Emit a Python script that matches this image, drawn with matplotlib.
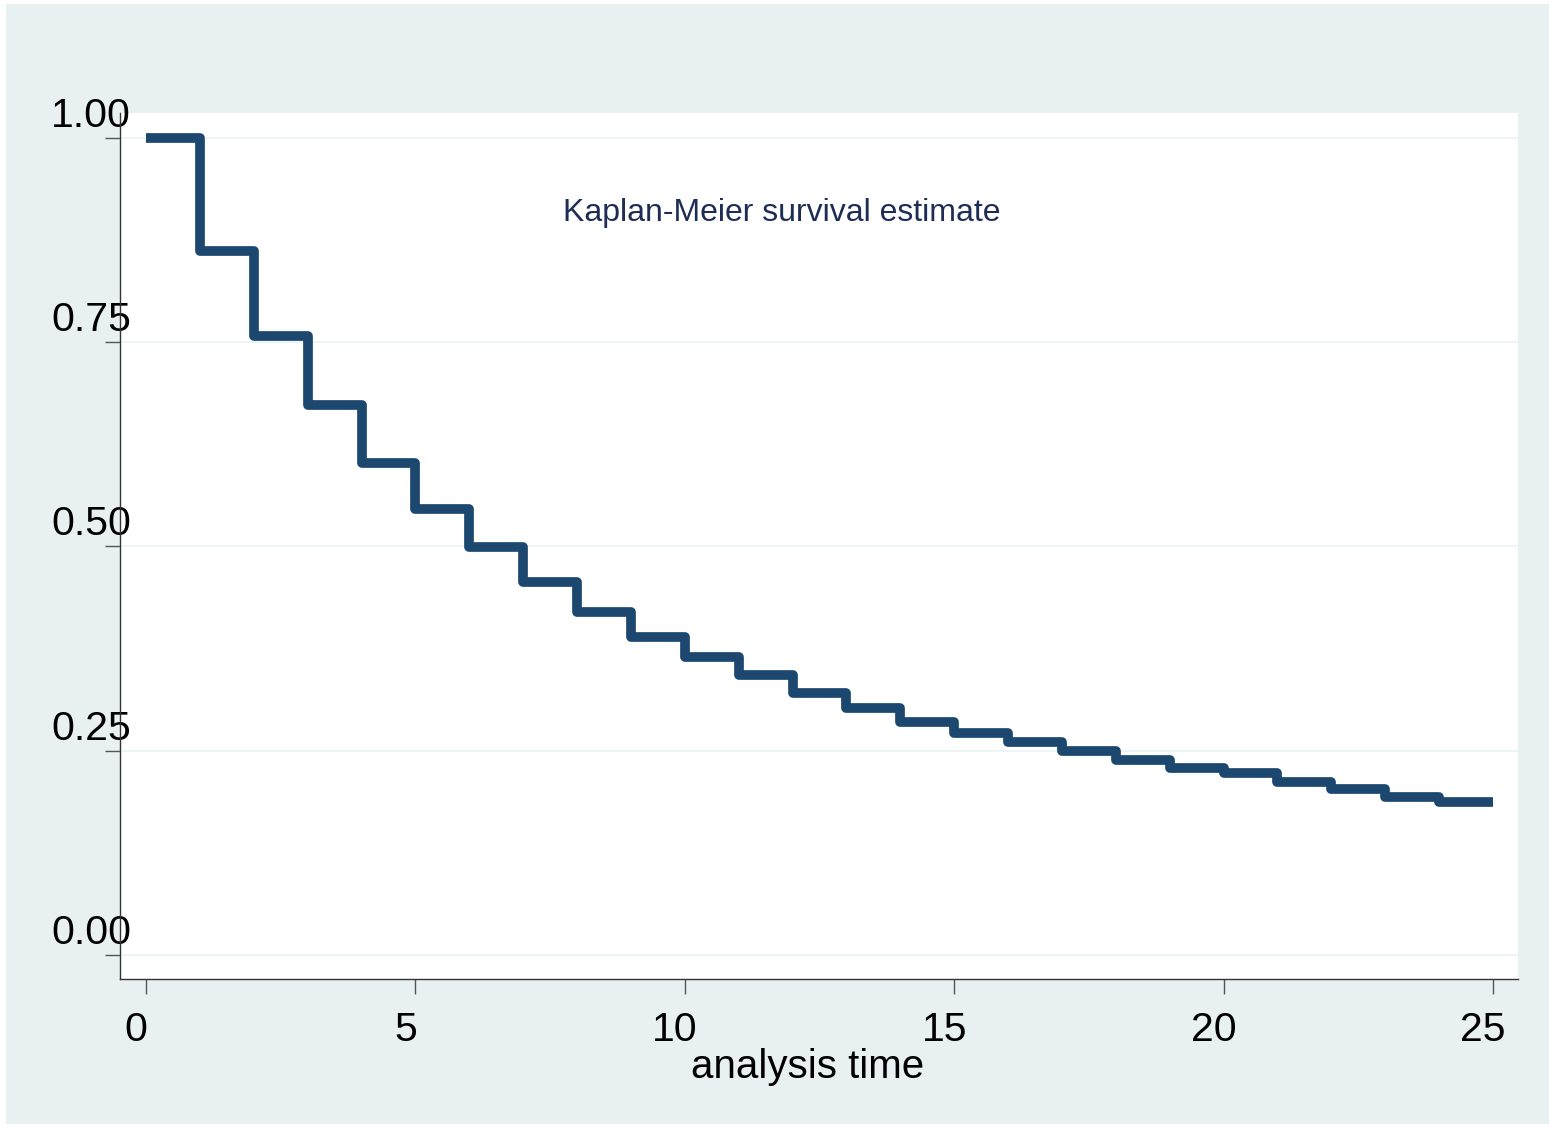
#!/usr/bin/env python3
import matplotlib.pyplot as plt
from matplotlib.patches import Rectangle
from matplotlib.transforms import ScaledTranslation

plt.rcParams["font.family"] = ["Liberation Sans", "DejaVu Sans"]

# Kaplan-Meier step estimate
times = [0, 1, 2, 3, 4, 5, 6, 7, 8, 9, 10, 11, 12, 13, 14, 15, 16, 17, 18, 19, 20, 21, 22, 23, 24, 25]
survival = [1.000, 0.862, 0.758, 0.673, 0.602, 0.546, 0.499, 0.456, 0.420, 0.389,
            0.365, 0.343, 0.321, 0.302, 0.285, 0.272, 0.261, 0.250, 0.239, 0.229,
            0.223, 0.212, 0.203, 0.193, 0.187, 0.187]

x_ticks = [0, 5, 10, 15, 20, 25]
y_ticks = [0.00, 0.25, 0.50, 0.75, 1.00]
y_tick_labels = ["0.00", "0.25", "0.50", "0.75", "1.00"]

BG = "#e8f0f2"
LINE = "#1c4870"

fig = plt.figure(figsize=(15.49, 11.28), dpi=100, facecolor="white")
fig.patches.append(Rectangle((6 / 1549, 4 / 1128), 1 - 6 / 1549, 1 - 8 / 1128,
                             transform=fig.transFigure, facecolor=BG,
                             edgecolor="none", zorder=-10))

ax = fig.add_axes([120 / 1549, 1 - 979 / 1128, 1398 / 1549, 866 / 1128])
ax.set_facecolor("white")

ax.step(times, survival, where="post", color=LINE, linewidth=7,
        solid_capstyle="butt", solid_joinstyle="round", zorder=3)

ax.set_xlim(-0.483, 25.464)
ax.set_ylim(-0.0294, 1.0306)

ax.set_xticks(x_ticks)
ax.set_yticks(y_ticks)
ax.set_yticklabels(y_tick_labels)

for s in ("top", "right"):
    ax.spines[s].set_visible(False)
for s in ("left", "bottom"):
    ax.spines[s].set_color("#333333")
    ax.spines[s].set_linewidth(1.0)

ax.grid(axis="y", color="#eaf2f3", linewidth=1.2, zorder=0)
ax.tick_params(axis="both", direction="out", length=11, width=1.0,
               color="#555555", labelsize=29.5, labelcolor="black")
ax.tick_params(axis="x", pad=12)
ax.tick_params(axis="y", pad=4)

# Stata-like offset of the tick labels
for lab in ax.get_yticklabels():
    lab.set_transform(lab.get_transform() + ScaledTranslation(0.32, 0.26, fig.dpi_scale_trans))
for lab in ax.get_xticklabels():
    lab.set_transform(lab.get_transform() + ScaledTranslation(-0.10, 0, fig.dpi_scale_trans))

ax.set_xlabel("analysis time", fontsize=29)
ax.xaxis.set_label_coords(0.492, -0.080)

ax.text(0.473, 0.884, "Kaplan-Meier survival estimate", transform=ax.transAxes,
        ha="center", va="center", fontsize=23, color="#1e2d55")

plt.savefig("out.png", dpi=100, facecolor=fig.get_facecolor())
plt.close(fig)
